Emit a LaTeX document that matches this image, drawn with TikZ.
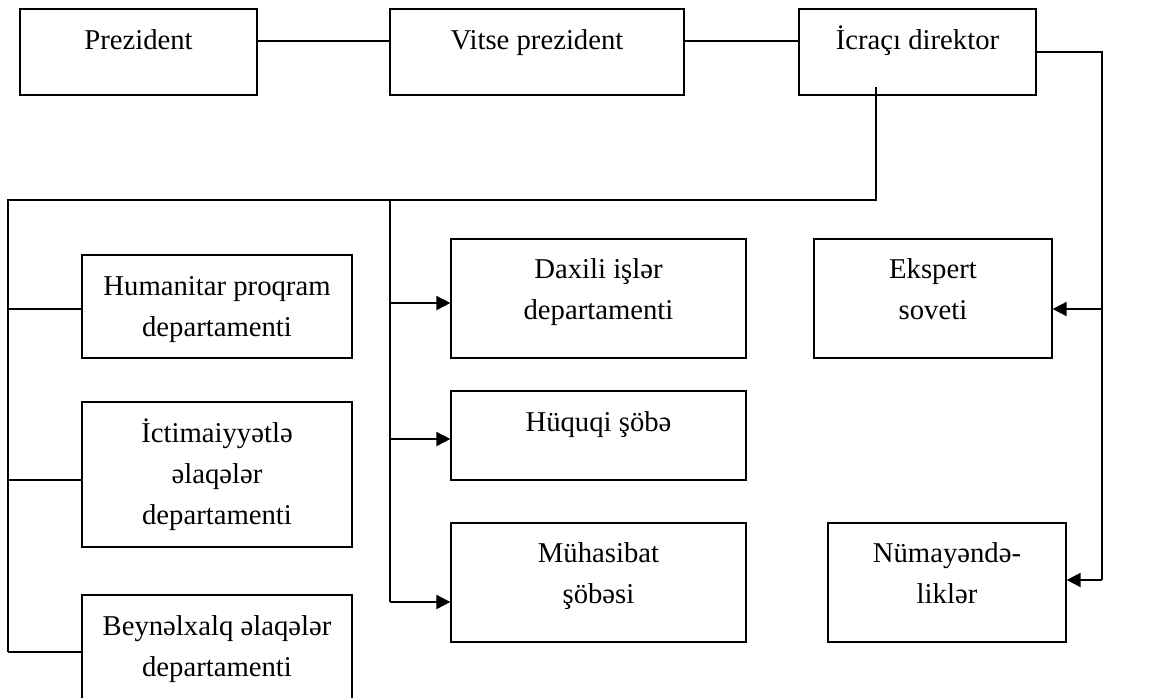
\documentclass[tikz,border=0pt]{standalone}
\usepackage{fontspec}
\setmainfont{Liberation Serif}
\usetikzlibrary{arrows.meta,calc}
\begin{document}
\begin{tikzpicture}[x=1pt,y=-1pt,
  box/.style={draw,line width=1.2pt,inner sep=0pt},
  lbl/.style={anchor=base,align=center,inner sep=0pt,
    font=\fontsize{28.7}{41}\selectfont},
  conn/.style={line width=1.1pt},
  arr/.style={line width=1.8pt,-{Triangle[length=14pt,width=14pt]}}]
\useasboundingbox (0,0) rectangle (1160,697);
\clip (0,0) rectangle (1160,697);
% boxes
\node[box,minimum width=237pt,minimum height=86pt] (pres) at (138.5,52) {};
\node[box,minimum width=294pt,minimum height=86pt] (vp) at (537,52) {};
\node[box,minimum width=237pt,minimum height=86pt] (icr) at (917.5,52) {};
\node[box,minimum width=270pt,minimum height=103pt] (hum) at (217,306.5) {};
\node[box,minimum width=270pt,minimum height=145pt] (ict) at (217,474.5) {};
\node[box,minimum width=270pt,minimum height=125pt] (bey) at (217,657.5) {};
\node[box,minimum width=295pt,minimum height=119pt] (dax) at (598.5,298.5) {};
\node[box,minimum width=295pt,minimum height=89pt] (huq) at (598.5,435.5) {};
\node[box,minimum width=295pt,minimum height=119pt] (muh) at (598.5,582.5) {};
\node[box,minimum width=238pt,minimum height=119pt] (eks) at (933,298.5) {};
\node[box,minimum width=238pt,minimum height=119pt] (num) at (947,582.5) {};
% texts (base anchor = baseline of last line)
\node[lbl] (pres-t) at ($(pres.north)+(0,41)$) {Prezident};
\node[lbl] (vp-t) at ($(vp.north)+(0,41)$) {Vitse prezident};
\node[lbl] (icr-t) at ($(icr.north)+(0,41)$) {İcraçı direktor};
\node[lbl] (hum-t) at ($(hum.north)+(0,82)$) {Humanitar proqram\\departamenti};
\node[lbl] (ict-t) at ($(ict.north)+(0,123)$) {İctimaiyyətlə\\əlaqələr\\departamenti};
\node[lbl] (bey-t) at ($(bey.north)+(0,82)$) {Beynəlxalq əlaqələr\\departamenti};
\node[lbl] (dax-t) at ($(dax.north)+(0,81)$) {Daxili işlər\\departamenti};
\node[lbl] (huq-t) at ($(huq.north)+(0,41)$) {Hüquqi şöbə};
\node[lbl] (muh-t) at ($(muh.north)+(0,81)$) {Mühasibat\\şöbəsi};
\node[lbl] (eks-t) at ($(eks.north)+(0,81)$) {Ekspert\\soveti};
\node[lbl] (num-t) at ($(num.north)+(0,81)$) {Nümayəndə-\\liklər};
% helper coordinates
\coordinate (top) at (0,41);
\coordinate (icrin) at (876,87);
\coordinate (lt) at (8,200);
\coordinate (lb) at (8,652);
\coordinate (mt) at (390,200);
\coordinate (mb) at (390,602);
\coordinate (rr) at (1102,580);
\coordinate (y1) at (0,309);
\coordinate (y2) at (0,480);
\coordinate (y3) at (0,303);
\coordinate (y4) at (0,439);
% connectors
\draw[conn] (pres.east |- top) -- (vp.west |- top);
\draw[conn] (vp.east |- top) -- (icr.west |- top);
\draw[conn] (icr.east) -| (rr);
\draw[conn] (icrin) |- (lt) -- (lb);
\draw[conn] (mt) -- (mb);
\draw[conn] (lt |- y1) -- (hum.west |- y1);
\draw[conn] (lt |- y2) -- (ict.west |- y2);
\draw[conn] (lb) -- (bey.west |- lb);
\draw[arr] (mt |- y3) -- (dax.west |- y3);
\draw[arr] (mt |- y4) -- (huq.west |- y4);
\draw[arr] (mb) -- (muh.west |- mb);
\draw[arr] (rr |- y1) -- (eks.east |- y1);
\draw[arr] (rr) -- (num.east |- rr);
\end{tikzpicture}
\end{document}
